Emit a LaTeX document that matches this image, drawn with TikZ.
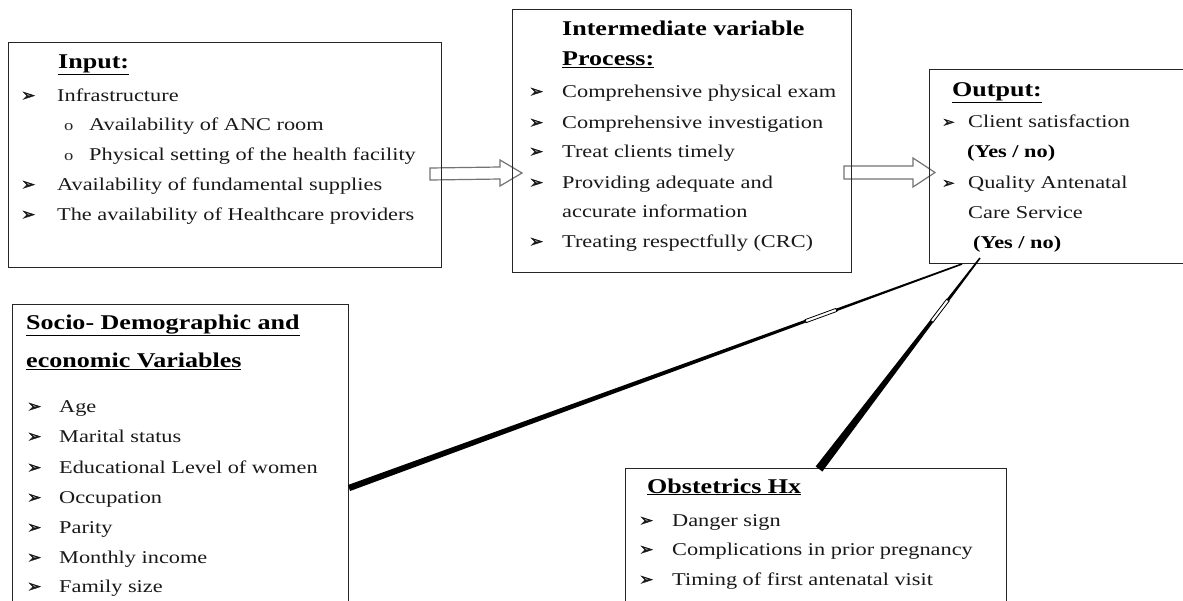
\documentclass[tikz,border=0pt]{standalone}
\usepackage{fontspec}
\setmainfont{Liberation Serif}[FakeStretch=1.24]
\newfontfamily\symfont{DejaVu Sans}[FakeBold=2]
\usetikzlibrary{calc}
\newcommand\wedgeline[4]{\fill[black] ($(#1)!#3!90:(#2)$) -- ($(#2)!#4!-90:(#1)$) -- ($(#2)!#4!90:(#1)$) -- ($(#1)!#3!-90:(#2)$) -- cycle;}
\newcommand\hollowpiece[4]{\filldraw[fill=white,draw=black,line width=0.8pt] ($($(#1)!#3!(#2)$)!1.6pt!90:(#2)$) -- ($($(#1)!#4!(#2)$)!1.6pt!90:(#2)$) -- ($($(#1)!#4!(#2)$)!1.6pt!-90:(#2)$) -- ($($(#1)!#3!(#2)$)!1.6pt!-90:(#2)$) -- cycle;}
\newcommand\blockarrow[5]{\filldraw[blk] ($(#1)+(0,-#3)$) -- ($(#2)+(-#5,-#3)$) -- ($(#2)+(-#5,-#4)$) -- (#2) -- ($(#2)+(-#5,#4)$) -- ($(#2)+(-#5,#3)$) -- ($(#1)+(0,#3)$) -- cycle;}
\tikzset{
  box/.style={draw=black!85, line width=1pt, anchor=north west, inner sep=0pt},
  txt/.style={anchor=base west, inner sep=0pt, text=black!90, font=\fontsize{18}{20}\selectfont},
  ttl/.style={anchor=base west, inner sep=0pt, text=black, font=\fontsize{21}{23}\selectfont\bfseries},
  yn/.style={anchor=base west, inner sep=0pt, text=black, font=\fontsize{18}{20}\selectfont\bfseries},
  bul/.style={anchor=base west, inner sep=0pt, text=black!90, font=\symfont\fontsize{17}{17}\selectfont},
  sbul/.style={anchor=base west, inner sep=0pt, text=black!90, font=\symfont\fontsize{15}{15}\selectfont},
  sub/.style={anchor=base west, inner sep=0pt, text=black!85, font=\fontsize{15}{15}\selectfont},
  blk/.style={draw=black!55, fill=white, line width=1.2pt, line join=miter}
}
\begin{document}
\begin{tikzpicture}[x=1pt,y=-1pt]
\useasboundingbox (0,0) rectangle (1183,600);
\clip (0,0) rectangle (1183,600);
\fill[white] (0,0) rectangle (1183,600);

% hollow block arrows (drawn beneath boxes)
\coordinate (a1s) at (430,174);
\coordinate (a1t) at (522,173);
\coordinate (a2s) at (844,172.5);
\coordinate (a2t) at (935,172.5);
\blockarrow{a1s}{a1t}{6}{13}{22}
\blockarrow{a2s}{a2t}{6.5}{14.5}{22}

% boxes
\node[box, minimum width=433pt, minimum height=225pt] (input) at (8,42) {};
\node[box, minimum width=339pt, minimum height=263pt] (inter) at (512,9) {};
\node[box, minimum width=300pt, minimum height=194pt] (out) at (929,69) {};
\node[box, minimum width=336pt, minimum height=320pt] (socio) at (12,304) {};
\node[box, minimum width=381pt, minimum height=160pt] (obst) at (625,468) {};

% Input
\node[ttl] (inT) at (58,68) {\underline{Input:}};
\node[bul] (inB1) at (21,101) {➢};
\node[txt] (in1) at (57,101) {Infrastructure};
\node[sub] (inS1) at (64,130) {o};
\node[txt] (in2) at (89,130) {Availability of ANC room};
\node[sub] (inS2) at (64,160) {o};
\node[txt] (in3) at (89,160) {Physical setting of the health facility};
\node[bul] (inB2) at (21,190) {➢};
\node[txt] (in4) at (57,190) {Availability of fundamental supplies};
\node[bul] (inB3) at (21,220) {➢};
\node[txt] (in5) at (57,220) {The availability of Healthcare providers};

% Intermediate
\node[ttl] (imT1) at (562,35) {Intermediate variable};
\node[ttl] (imT2) at (562,65) {\underline{Process:}};
\node[bul] (imB1) at (529,97) {➢};
\node[txt] (im1) at (562,97) {Comprehensive physical exam};
\node[bul] (imB2) at (529,128) {➢};
\node[txt] (im2) at (562,128) {Comprehensive investigation};
\node[bul] (imB3) at (529,157) {➢};
\node[txt] (im3) at (562,157) {Treat clients timely};
\node[bul] (imB4) at (529,188) {➢};
\node[txt] (im4) at (562,188) {Providing adequate and};
\node[txt] (im5) at (562,217) {accurate information};
\node[bul] (imB5) at (529,247) {➢};
\node[txt] (im6) at (562,247) {Treating respectfully (CRC)};

% Output
\node[ttl] (ouT) at (952,96) {\underline{Output:}};
\node[sbul] (ouB1) at (942,127) {➢};
\node[txt] (ou1) at (968,127) {Client satisfaction};
\node[yn] (ou2) at (967,157) {(Yes / no)};
\node[sbul] (ouB2) at (942,188) {➢};
\node[txt] (ou3) at (968,188) {Quality Antenatal};
\node[txt] (ou4) at (968,218) {Care Service};
\node[yn] (ou5) at (973,248) {(Yes / no)};

% Socio
\node[ttl] (soT1) at (26,329) {\underline{Socio- Demographic and}};
\node[ttl] (soT2) at (26,367) {\underline{economic Variables}};
\node[bul] (soB1) at (27,412) {➢};
\node[txt] (so1) at (59,412) {Age};
\node[bul] (soB2) at (27,442) {➢};
\node[txt] (so2) at (59,442) {Marital status};
\node[bul] (soB3) at (27,473) {➢};
\node[txt] (so3) at (59,473) {Educational Level of women};
\node[bul] (soB4) at (27,503) {➢};
\node[txt] (so4) at (59,503) {Occupation};
\node[bul] (soB5) at (27,533) {➢};
\node[txt] (so5) at (59,533) {Parity};
\node[bul] (soB6) at (27,563) {➢};
\node[txt] (so6) at (59,563) {Monthly income};
\node[bul] (soB7) at (27,592) {➢};
\node[txt] (so7) at (59,592) {Family size};

% Obstetrics
\node[ttl] (obT) at (647,493) {\underline{Obstetrics Hx}};
\node[bul] (obB1) at (639,526) {➢};
\node[txt] (ob1) at (672,526) {Danger sign};
\node[bul] (obB2) at (639,555) {➢};
\node[txt] (ob2) at (672,555) {Complications in prior pregnancy};
\node[bul] (obB3) at (639,585) {➢};
\node[txt] (ob3) at (672,585) {Timing of first antenatal visit};

% tapered connectors
\coordinate (sA) at ($(socio.north east)+(0,184)$);
\coordinate (sB) at ($(out.south west)+(33,0)$);
\coordinate (oA) at ($(obst.north west)+(194,1)$);
\coordinate (oB) at ($(out.south west)+(51,-6)$);
\wedgeline{sA}{sB}{3.2pt}{0.8pt}
\wedgeline{oA}{oB}{4.2pt}{0.8pt}
\hollowpiece{sA}{sB}{0.745}{0.795}
\hollowpiece{oA}{oB}{0.70}{0.80}
\end{tikzpicture}
\end{document}
